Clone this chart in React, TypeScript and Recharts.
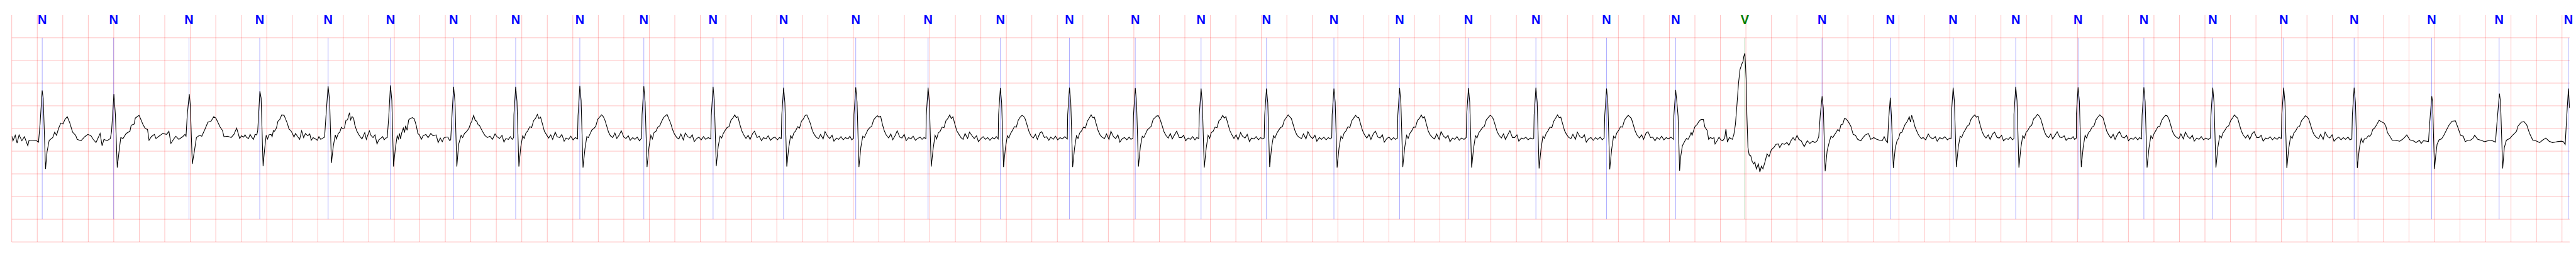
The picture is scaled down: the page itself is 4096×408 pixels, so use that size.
import { LineChart, Line, XAxis, YAxis, ReferenceLine, ReferenceDot } from "recharts";

// beat annotations (seconds)
const beatTimes = [
  0.239, 0.799, 1.39, 1.945, 2.481, 2.97, 3.465, 3.952, 4.455, 4.957, 5.5, 6.053,
  6.619, 7.186, 7.753, 8.295, 8.811, 9.327, 9.84, 10.369, 10.884, 11.424, 11.953,
  12.507, 13.049, 13.591, 14.197, 14.732, 15.225, 15.716, 16.205, 16.721, 17.261,
  17.817, 18.37, 18.978, 19.507, 20.05,
];
const beatTypes = [
  "N", "N", "N", "N", "N", "N", "N", "N", "N", "N", "N", "N", "N", "N", "N", "N",
  "N", "N", "N", "N", "N", "N", "N", "N", "N", "V", "N", "N", "N", "N", "N", "N",
  "N", "N", "N", "N", "N", "N",
];

const gridTimes = Array.from({ length: 101 }, (_, i) => +(i * 0.2).toFixed(1));
const gridLevels = [-2.5, -2, -1.5, -1, -0.5, 0, 0.5, 1, 1.5, 2];

// trace pieces, [seconds, mV]
const seg1: [number, number][] = [
  [0, -0.17], [0.0096, -0.27], [0.0275, -0.15], [0.0419, -0.32], [0.0575, -0.14], [0.079, -0.27],
  [0.0994, -0.18], [0.1258, -0.38], [0.1354, -0.26], [0.1654, -0.26], [0.1954, -0.27], [0.2097, -0.3],
  [0.2217, 0.09], [0.2385, 0.84], [0.2469, 0.66], [0.2649, -0.89], [0.2769, -0.51], [0.2937, -0.26],
  [0.3212, -0.2], [0.3368, -0.08], [0.3512, -0.15], [0.3668, 0.0], [0.3848, 0.12], [0.4016, 0.1],
  [0.4172, 0.2], [0.4352, 0.26], [0.4531, 0.14], [0.4771, -0.08], [0.5011, -0.15], [0.5131, -0.24],
  [0.5431, -0.27], [0.573, -0.18], [0.597, -0.13], [0.621, -0.16], [0.639, -0.24], [0.6606, -0.31],
  [0.693, -0.11], [0.7085, -0.38], [0.7229, -0.24], [0.7469, -0.27], [0.7733, -0.22], [0.7829, -0.06],
  [0.8009, 0.76], [0.8129, 0.3], [0.8272, -0.86], [0.8404, -0.53], [0.8548, -0.2], [0.8728, -0.22],
  [0.8968, -0.11], [0.9268, -0.06], [0.9364, 0.07], [0.9603, 0.1], [0.9687, 0.23], [0.9987, 0.29],
  [1.0287, 0.09], [1.0467, 0.0], [1.0647, -0.02], [1.0766, -0.26], [1.0946, -0.18], [1.1186, -0.13],
  [1.1306, -0.22], [1.1546, -0.17], [1.1845, -0.11], [1.2145, -0.13], [1.2325, -0.06], [1.2481, -0.33],
  [1.2685, -0.24], [1.2865, -0.17], [1.3104, -0.24], [1.3404, -0.18], [1.3584, -0.13], [1.3668, -0.17],
  [1.3764, 0.3], [1.392, 0.76], [1.4003, 0.52], [1.4159, -0.78], [1.4327, -0.49], [1.4483, -0.2],
  [1.4723, -0.15], [1.4903, -0.17], [1.5143, -0.02], [1.5382, 0.14], [1.5622, 0.16], [1.5838, 0.26],
  [1.6005, 0.23], [1.6162, 0.14], [1.6342, 0.03], [1.6521, -0.04], [1.6641, -0.18], [1.6941, -0.17],
  [1.7205, -0.2], [1.742, -0.13], [1.7636, 0.01], [1.7876, -0.22],
  [1.802, -0.16], [1.8177, -0.19], [1.8297, -0.14], [1.8417, -0.2], [1.8572, -0.22], [1.8692, -0.13],
  [1.8812, -0.19], [1.8956, -0.24], [1.9076, -0.13], [1.922, -0.14], [1.9292, -0.04], [1.946, 0.82],
  [1.9556, 0.67], [1.9711, -0.83], [1.9819, -0.49], [1.9951, -0.15], [2.0059, -0.23], [2.0179, -0.14],
  [2.0335, -0.13], [2.0419, -0.18], [2.0515, -0.05], [2.0611, -0.06], [2.0755, 0.01], [2.0875, 0.16],
  [2.1018, 0.2], [2.1174, 0.3], [2.1354, 0.29], [2.1474, 0.21], [2.1618, 0.11], [2.1738, -0.01],
  [2.1893, -0.05], [2.2013, -0.11], [2.2133, -0.19], [2.2253, -0.11], [2.2373, -0.16], [2.2577, -0.24],
  [2.2733, -0.05], [2.2889, -0.2], [2.3033, -0.11], [2.3213, -0.16], [2.3369, -0.12], [2.3488, -0.26],
  [2.3632, -0.2], [2.3812, -0.23], [2.3968, -0.26], [2.4088, -0.18], [2.4232, -0.24], [2.4412, -0.21],
  [2.4532, -0.19], [2.4651, 0.31], [2.4807, 0.93], [2.4927, 0.62], [2.5071, -0.76], [2.5215, -0.39],
  [2.5371, -0.14], [2.5455, -0.23], [2.561, -0.11], [2.573, -0.08], [2.585, 0.03], [2.5934, 0.0],
  [2.609, 0.01], [2.621, 0.18], [2.633, 0.19], [2.6486, 0.35], [2.657, 0.19], [2.6689, 0.26],
  [2.6809, 0.23], [2.6893, 0.09], [2.7049, -0.05], [2.7205, -0.13], [2.7349, -0.19], [2.7469, -0.23],
  [2.7685, -0.09], [2.7805, -0.24], [2.8044, -0.05], [2.8164, -0.15], [2.8332, -0.2], [2.8488, -0.14],
  [2.8644, -0.34], [2.8788, -0.25], [2.8968, -0.21], [2.9088, -0.18], [2.9208, -0.25], [2.9327, -0.21],
  [2.9447, -0.2], [2.9567, 0.26], [2.9699, 0.95], [2.9807, 0.62], [2.9939, -0.84], [3.0083, -0.44],
  [3.0227, -0.16], [3.0323, -0.23], [3.0407, -0.11], [3.0491, -0.23], [3.0577, -0.1], [3.0707, 0.01],
  [3.0803, -0.09], [3.0887, 0.06], [3.1007, -0.04], [3.1126, 0.19], [3.1246, 0.22], [3.1426, 0.24],
  [3.157, 0.21], [3.1726, 0.06], [3.1846, -0.11], [3.1966, -0.14], [3.2121, -0.24], [3.2265, -0.16],
  [3.2481, -0.13], [3.2649, -0.2], [3.2864, -0.11], [3.3044, -0.16], [3.3284, -0.14], [3.344, -0.31],
  [3.3608, -0.21], [3.3763, -0.29], [3.3883, -0.21], [3.4039, -0.19], [3.4207, -0.19], [3.4327, -0.26],
  [3.4423, -0.25], [3.4519, 0.26], [3.4651, 0.92], [3.4759, 0.59], [3.4903, -0.84], [3.5047, -0.35],
  [3.5239, -0.15], [3.5359, -0.2], [3.5503, -0.11], [3.5622, -0.08], [3.5742, -0.04], [3.5862, 0.01],
  [3.5982, 0.11], [3.6078, 0.16], [3.6222, 0.29], [3.6342, 0.18], [3.6462, 0.16], [3.6582, 0.08],
  [3.6677, 0.07], [3.68, 0.0], [3.695, -0.08], [3.71, -0.15], [3.73, -0.2], [3.75, -0.17],
  [3.77, -0.24], [3.79, -0.12], [3.805, -0.18], [3.825, -0.22], [3.845, -0.15], [3.86, -0.3],
  [3.875, -0.22], [3.895, -0.24], [3.91, -0.18], [3.925, -0.24], [3.936, -0.2],
];
const seg2: [number, number][] = [
  [13.068, 0.27], [13.08, -0.93], [13.0896, -0.6], [13.1016, -0.38], [13.122, -0.27], [13.134, -0.22],
  [13.146, -0.24], [13.158, -0.18], [13.17, -0.09], [13.178, -0.15], [13.1855, -0.08], [13.2, 0.04],
  [13.218, 0.09], [13.23, 0.15], [13.248, 0.2], [13.266, 0.2], [13.278, 0.03], [13.2958, -0.04],
  [13.3078, -0.24], [13.32, -0.2], [13.338, -0.22], [13.35, -0.2], [13.358, -0.34], [13.374, -0.27],
  [13.389, -0.19], [13.4036, -0.25], [13.418, -0.27], [13.4337, -0.21], [13.4433, -0.01], [13.455, -0.3],
  [13.4697, -0.2], [13.4937, -0.24], [13.5056, -0.13], [13.5176, 0.09], [13.5296, 0.52], [13.5416, 0.99],
  [13.5536, 1.3], [13.5692, 1.43], [13.5776, 1.48], [13.5836, 1.59], [13.592, 1.66], [13.6016, 1.1],
  [13.6075, 0.3], [13.616, -0.42], [13.6255, -0.58], [13.6375, -0.6], [13.6495, -0.73], [13.6615, -0.78],
  [13.67, -0.74], [13.6819, -0.89], [13.6975, -0.78], [13.7095, -0.96], [13.7215, -0.83], [13.7335, -0.89],
  [13.749, -0.74], [13.7658, -0.56], [13.7814, -0.62], [13.7994, -0.47], [13.821, -0.41], [13.8354, -0.35],
  [13.8533, -0.34], [13.8653, -0.42], [13.8833, -0.33], [13.9013, -0.35], [13.9217, -0.31], [13.9373, -0.37],
  [13.9529, -0.27], [13.9697, -0.2], [13.9852, -0.26], [14.0008, -0.15], [14.0152, -0.24], [14.0332, -0.27],
  [14.0572, -0.4], [14.0812, -0.27], [14.1016, -0.33], [14.1231, -0.28], [14.1411, -0.31], [14.1591, -0.27],
  [14.1711, -0.18], [14.1831, 0.3], [14.1975, 0.71], [14.207, 0.45], [14.2214, -0.94], [14.237, -0.49],
  [14.2526, -0.31], [14.267, -0.17], [14.2813, -0.2], [14.2969, -0.13], [14.3089, -0.08], [14.3209, -0.02],
  [14.3329, -0.06], [14.3449, 0.08], [14.3605, 0.1], [14.3725, 0.22], [14.3869, 0.21], [14.4049, 0.14],
  [14.4229, 0.05], [14.4409, -0.13], [14.4588, -0.15], [14.4768, -0.24], [14.5008, -0.27], [14.5188, -0.2],
  [14.5368, -0.14], [14.5608, -0.11], [14.5788, -0.24], [14.6028, -0.2], [14.6267, -0.24], [14.6507, -0.26],
  [14.6687, -0.27], [14.6843, -0.18], [14.6987, -0.27], [14.7107, -0.31], [14.7202, 0.23], [14.7322, 0.68],
  [14.7406, 0.3], [14.7562, -0.87], [14.7706, -0.44], [14.785, -0.27], [14.797, -0.22], [14.809, -0.1],
  [14.8245, -0.08], [14.8365, 0.01], [14.8485, 0.09], [14.8665, 0.16], [14.8809, 0.26], [14.8905, 0.14],
  [14.9, 0.29], [14.9144, 0.16], [14.9264, 0.03], [14.948, -0.11], [14.96, -0.17], [14.975, -0.22],
  [14.99, -0.2], [15.01, -0.25], [15.03, -0.12], [15.045, -0.19], [15.065, -0.23], [15.085, -0.18],
  [15.1, -0.28], [15.12, -0.2], [15.14, -0.23], [15.16, -0.18], [15.18, -0.25], [15.2, -0.21],
  [15.209, -0.22],
];
const seg3: [number, number][] = [
  [18.4396, -0.31], [18.4503, -0.23], [18.4662, -0.22], [18.4801, -0.16], [18.4929, -0.17], [18.5035, -0.13],
  [18.5163, -0.02], [18.5302, 0.01], [18.5461, 0.08], [18.5653, 0.18], [18.5834, 0.15], [18.6047, 0.12],
  [18.6186, 0.05], [18.6314, -0.09], [18.6527, -0.18], [18.6687, -0.26], [18.6899, -0.26], [18.7113, -0.27],
  [18.7273, -0.28], [18.7486, -0.24], [18.7645, -0.2], [18.7827, -0.14], [18.8071, -0.25], [18.8338, -0.27],
  [18.8551, -0.31], [18.8817, -0.26], [18.8956, -0.33], [18.9137, -0.27], [18.9403, -0.28], [18.9531, -0.29],
  [18.9616, 0.09], [18.9787, 0.71], [18.9851, 0.59], [19.0, -0.89], [19.0096, -0.6], [19.0203, -0.35],
  [19.0362, -0.25], [19.0554, -0.23], [19.0735, -0.15], [19.0895, -0.06], [19.1129, 0.07], [19.1374, 0.16],
  [19.1641, 0.17], [19.1854, 0.01], [19.2046, -0.15], [19.2259, -0.17], [19.2408, -0.29], [19.26, -0.26],
  [19.2813, -0.26], [19.3005, -0.22], [19.3154, -0.15], [19.3399, -0.24], [19.3665, -0.26], [19.3932, -0.29],
  [19.4197, -0.27], [19.4464, -0.26], [19.4784, -0.3], [19.489, 0.09], [19.5093, 0.77], [19.5178, 0.59],
  [19.5349, -0.88], [19.5476, -0.42], [19.5636, -0.26], [19.5903, -0.22], [19.6115, -0.15], [19.6276, -0.11],
  [19.6435, -0.06], [19.6542, 0.05], [19.6808, 0.14], [19.7021, 0.15], [19.7234, 0.08], [19.7447, -0.1],
  [19.7714, -0.26], [19.7948, -0.27], [19.8247, -0.31], [19.8459, -0.26], [19.8729, -0.21], [19.8992, -0.28],
  [19.9258, -0.31], [19.963, -0.29], [19.9952, -0.28], [20.0111, -0.29], [20.025, -0.35], [20.0378, 0.3],
  [20.0506, 0.88], [20.0591, 0.45],
];

// remaining beats, points given as [seconds after R, mV]
const fillBeatR = [
  3.952, 4.455, 4.957, 5.5, 6.053, 6.619, 7.186, 7.753, 8.295, 8.811, 9.327, 9.84, 10.369,
  10.884, 11.424, 11.953, 12.507, 13.049, 15.225, 15.716, 16.205, 16.721, 17.261, 17.817, 18.37,
];
const fillBeatPts: [number, number][][] = [
  [[-0.014, 0.3], [0, 0.92], [0.01, 0.6], [0.025, -0.84], [0.04, -0.4], [0.055, -0.16], [0.067, -0.22], [0.08, -0.1], [0.095, -0.05], [0.11, 0.04], [0.125, 0.02], [0.14, 0.17], [0.155, 0.22], [0.17, 0.31], [0.182, 0.22], [0.195, 0.25], [0.21, 0.1], [0.225, -0.06], [0.24, -0.13], [0.258, -0.21], [0.275, -0.14], [0.29, -0.24], [0.31, -0.08], [0.325, -0.18], [0.345, -0.2], [0.362, -0.13], [0.38, -0.28], [0.395, -0.21], [0.415, -0.24], [0.432, -0.17], [0.45, -0.25], [0.468, -0.2], [0.485, -0.23]],
  [[-0.014, 0.28], [0, 0.94], [0.01, 0.62], [0.025, -0.86], [0.04, -0.45], [0.055, -0.18], [0.067, -0.2], [0.08, -0.12], [0.095, -0.03], [0.11, 0.0], [0.125, 0.05], [0.14, 0.2], [0.155, 0.25], [0.17, 0.3], [0.182, 0.27], [0.195, 0.2], [0.21, 0.06], [0.225, -0.08], [0.24, -0.16], [0.258, -0.2], [0.275, -0.1], [0.29, -0.22], [0.31, -0.14], [0.325, -0.05], [0.345, -0.19], [0.362, -0.22], [0.38, -0.16], [0.395, -0.26], [0.415, -0.2], [0.432, -0.24], [0.45, -0.19], [0.468, -0.27], [0.485, -0.21]],
  [[-0.014, 0.3], [0, 0.93], [0.01, 0.58], [0.025, -0.85], [0.04, -0.42], [0.055, -0.15], [0.067, -0.23], [0.08, -0.09], [0.095, -0.06], [0.11, 0.03], [0.125, 0.06], [0.14, 0.16], [0.155, 0.24], [0.17, 0.28], [0.182, 0.31], [0.195, 0.22], [0.21, 0.12], [0.225, -0.02], [0.24, -0.12], [0.258, -0.2], [0.275, -0.23], [0.29, -0.12], [0.31, -0.25], [0.325, -0.1], [0.345, -0.18], [0.362, -0.21], [0.38, -0.14], [0.395, -0.29], [0.415, -0.22], [0.432, -0.19], [0.45, -0.25], [0.468, -0.18], [0.485, -0.24], [0.505, -0.2], [0.525, -0.23]],
  [[-0.014, 0.29], [0, 0.92], [0.01, 0.6], [0.025, -0.83], [0.04, -0.4], [0.055, -0.17], [0.067, -0.21], [0.08, -0.11], [0.095, -0.04], [0.11, 0.02], [0.125, 0.04], [0.14, 0.18], [0.155, 0.23], [0.17, 0.3], [0.182, 0.24], [0.195, 0.26], [0.21, 0.09], [0.225, -0.05], [0.24, -0.14], [0.258, -0.22], [0.275, -0.15], [0.29, -0.24], [0.31, -0.11], [0.325, -0.06], [0.345, -0.2], [0.362, -0.17], [0.38, -0.27], [0.395, -0.2], [0.415, -0.23], [0.432, -0.16], [0.45, -0.26], [0.468, -0.21], [0.485, -0.19], [0.505, -0.25], [0.52, -0.2], [0.535, -0.22]],
  [[-0.014, 0.3], [0, 0.9], [0.01, 0.57], [0.025, -0.84], [0.04, -0.43], [0.055, -0.16], [0.067, -0.22], [0.08, -0.1], [0.095, -0.05], [0.11, 0.04], [0.125, 0.01], [0.14, 0.16], [0.155, 0.21], [0.17, 0.29], [0.182, 0.3], [0.195, 0.22], [0.21, 0.11], [0.225, -0.04], [0.24, -0.13], [0.258, -0.2], [0.275, -0.22], [0.29, -0.13], [0.31, -0.23], [0.325, -0.07], [0.345, -0.17], [0.362, -0.22], [0.38, -0.15], [0.395, -0.28], [0.415, -0.21], [0.432, -0.24], [0.45, -0.18], [0.468, -0.25], [0.485, -0.2], [0.505, -0.23], [0.52, -0.17], [0.535, -0.25], [0.55, -0.21]],
  [[-0.014, 0.31], [0, 0.91], [0.01, 0.59], [0.025, -0.85], [0.04, -0.41], [0.055, -0.17], [0.067, -0.2], [0.08, -0.12], [0.095, -0.03], [0.11, 0.02], [0.125, 0.05], [0.14, 0.19], [0.155, 0.24], [0.17, 0.28], [0.182, 0.25], [0.195, 0.27], [0.21, 0.08], [0.225, -0.06], [0.24, -0.15], [0.258, -0.21], [0.275, -0.12], [0.29, -0.25], [0.31, -0.15], [0.325, -0.05], [0.345, -0.19], [0.362, -0.21], [0.38, -0.13], [0.395, -0.27], [0.415, -0.2], [0.432, -0.23], [0.45, -0.17], [0.468, -0.26], [0.485, -0.22], [0.505, -0.19], [0.52, -0.24], [0.535, -0.2], [0.55, -0.22]],
  [[-0.014, 0.29], [0, 0.9], [0.01, 0.58], [0.025, -0.84], [0.04, -0.44], [0.055, -0.15], [0.067, -0.23], [0.08, -0.1], [0.095, -0.06], [0.11, 0.03], [0.125, 0.02], [0.14, 0.17], [0.155, 0.22], [0.17, 0.3], [0.182, 0.22], [0.195, 0.26], [0.21, 0.1], [0.225, -0.05], [0.24, -0.12], [0.258, -0.2], [0.275, -0.24], [0.29, -0.11], [0.31, -0.22], [0.325, -0.08], [0.345, -0.16], [0.362, -0.22], [0.38, -0.16], [0.395, -0.29], [0.415, -0.22], [0.432, -0.18], [0.45, -0.24], [0.468, -0.2], [0.485, -0.26], [0.505, -0.2], [0.52, -0.23], [0.535, -0.18], [0.55, -0.23]],
  [[-0.014, 0.3], [0, 0.89], [0.01, 0.57], [0.025, -0.85], [0.04, -0.42], [0.055, -0.16], [0.067, -0.21], [0.08, -0.11], [0.095, -0.04], [0.11, 0.04], [0.125, 0.03], [0.14, 0.18], [0.155, 0.25], [0.17, 0.29], [0.182, 0.27], [0.195, 0.21], [0.21, 0.07], [0.225, -0.07], [0.24, -0.16], [0.258, -0.21], [0.275, -0.13], [0.29, -0.24], [0.31, -0.1], [0.325, -0.07], [0.345, -0.2], [0.362, -0.18], [0.38, -0.26], [0.395, -0.19], [0.415, -0.24], [0.432, -0.17], [0.45, -0.25], [0.468, -0.2], [0.485, -0.23], [0.505, -0.18], [0.525, -0.23]],
  [[-0.014, 0.3], [0, 0.9], [0.01, 0.59], [0.025, -0.85], [0.04, -0.43], [0.055, -0.16], [0.067, -0.22], [0.08, -0.1], [0.095, -0.05], [0.11, 0.03], [0.125, 0.01], [0.14, 0.16], [0.155, 0.23], [0.17, 0.3], [0.182, 0.24], [0.195, 0.25], [0.21, 0.1], [0.225, -0.05], [0.24, -0.14], [0.258, -0.2], [0.275, -0.22], [0.29, -0.12], [0.31, -0.24], [0.325, -0.06], [0.345, -0.18], [0.362, -0.22], [0.38, -0.14], [0.395, -0.3], [0.415, -0.22], [0.432, -0.2], [0.45, -0.25], [0.468, -0.19], [0.482, -0.24], [0.498, -0.21]],
  [[-0.014, 0.29], [0, 0.89], [0.01, 0.57], [0.025, -0.84], [0.04, -0.4], [0.055, -0.17], [0.067, -0.2], [0.08, -0.12], [0.095, -0.03], [0.11, 0.01], [0.125, 0.05], [0.14, 0.2], [0.155, 0.24], [0.17, 0.28], [0.182, 0.28], [0.195, 0.2], [0.21, 0.07], [0.225, -0.07], [0.24, -0.15], [0.258, -0.21], [0.275, -0.11], [0.29, -0.23], [0.31, -0.13], [0.325, -0.06], [0.345, -0.2], [0.362, -0.2], [0.38, -0.15], [0.395, -0.27], [0.415, -0.21], [0.432, -0.24], [0.45, -0.18], [0.468, -0.25], [0.482, -0.2], [0.498, -0.22]],
  [[-0.014, 0.3], [0, 0.88], [0.01, 0.56], [0.025, -0.86], [0.04, -0.44], [0.055, -0.15], [0.067, -0.22], [0.08, -0.09], [0.095, -0.06], [0.11, 0.03], [0.125, 0.02], [0.14, 0.17], [0.155, 0.21], [0.17, 0.29], [0.182, 0.23], [0.195, 0.26], [0.21, 0.11], [0.225, -0.04], [0.24, -0.13], [0.258, -0.22], [0.275, -0.14], [0.29, -0.25], [0.31, -0.09], [0.325, -0.17], [0.345, -0.21], [0.362, -0.13], [0.38, -0.29], [0.395, -0.21], [0.415, -0.23], [0.432, -0.18], [0.45, -0.25], [0.468, -0.2], [0.482, -0.23], [0.495, -0.21]],
  [[-0.014, 0.29], [0, 0.88], [0.01, 0.57], [0.025, -0.85], [0.04, -0.42], [0.055, -0.16], [0.067, -0.21], [0.08, -0.11], [0.095, -0.04], [0.11, 0.02], [0.125, 0.04], [0.14, 0.18], [0.155, 0.24], [0.17, 0.3], [0.182, 0.26], [0.195, 0.22], [0.21, 0.08], [0.225, -0.06], [0.24, -0.15], [0.258, -0.2], [0.275, -0.22], [0.29, -0.12], [0.31, -0.23], [0.325, -0.07], [0.345, -0.18], [0.362, -0.22], [0.38, -0.15], [0.395, -0.28], [0.415, -0.2], [0.432, -0.24], [0.45, -0.19], [0.468, -0.25], [0.485, -0.2], [0.5, -0.23], [0.512, -0.2]],
  [[-0.014, 0.3], [0, 0.88], [0.01, 0.58], [0.025, -0.86], [0.04, -0.43], [0.055, -0.17], [0.067, -0.22], [0.08, -0.1], [0.095, -0.05], [0.11, 0.04], [0.125, 0.02], [0.14, 0.17], [0.155, 0.23], [0.17, 0.29], [0.182, 0.25], [0.195, 0.24], [0.21, 0.09], [0.225, -0.05], [0.24, -0.14], [0.258, -0.21], [0.275, -0.13], [0.29, -0.24], [0.31, -0.11], [0.325, -0.06], [0.345, -0.19], [0.362, -0.21], [0.38, -0.14], [0.395, -0.3], [0.415, -0.22], [0.432, -0.19], [0.45, -0.25], [0.468, -0.2], [0.482, -0.24], [0.498, -0.21]],
  [[-0.014, 0.29], [0, 0.89], [0.01, 0.57], [0.025, -0.85], [0.04, -0.42], [0.055, -0.15], [0.067, -0.22], [0.08, -0.11], [0.095, -0.05], [0.11, 0.03], [0.125, 0.03], [0.14, 0.18], [0.155, 0.22], [0.17, 0.3], [0.182, 0.23], [0.195, 0.26], [0.21, 0.1], [0.225, -0.06], [0.24, -0.14], [0.258, -0.2], [0.275, -0.23], [0.29, -0.12], [0.31, -0.24], [0.325, -0.07], [0.345, -0.17], [0.362, -0.21], [0.38, -0.15], [0.395, -0.29], [0.415, -0.21], [0.432, -0.24], [0.45, -0.18], [0.468, -0.26], [0.485, -0.21], [0.505, -0.24], [0.522, -0.2]],
  [[-0.014, 0.3], [0, 0.89], [0.01, 0.58], [0.025, -0.86], [0.04, -0.44], [0.055, -0.16], [0.067, -0.21], [0.08, -0.1], [0.095, -0.04], [0.11, 0.02], [0.125, 0.05], [0.14, 0.19], [0.155, 0.24], [0.17, 0.29], [0.182, 0.27], [0.195, 0.21], [0.21, 0.07], [0.225, -0.07], [0.24, -0.15], [0.258, -0.21], [0.275, -0.12], [0.29, -0.24], [0.31, -0.13], [0.325, -0.05], [0.345, -0.2], [0.362, -0.2], [0.38, -0.14], [0.395, -0.28], [0.415, -0.21], [0.432, -0.23], [0.45, -0.19], [0.468, -0.25], [0.485, -0.21], [0.5, -0.23], [0.512, -0.22]],
  [[-0.014, 0.3], [0, 0.9], [0.01, 0.58], [0.025, -0.88], [0.04, -0.45], [0.055, -0.17], [0.067, -0.22], [0.08, -0.11], [0.095, -0.05], [0.11, 0.03], [0.125, 0.02], [0.14, 0.16], [0.155, 0.23], [0.17, 0.3], [0.182, 0.24], [0.195, 0.25], [0.21, 0.1], [0.225, -0.05], [0.24, -0.13], [0.258, -0.2], [0.275, -0.22], [0.29, -0.13], [0.31, -0.24], [0.325, -0.08], [0.345, -0.18], [0.362, -0.21], [0.38, -0.14], [0.395, -0.3], [0.415, -0.22], [0.432, -0.2], [0.45, -0.26], [0.468, -0.2], [0.485, -0.24], [0.505, -0.19], [0.52, -0.25], [0.535, -0.21]],
  [[-0.014, 0.29], [0, 0.88], [0.01, 0.57], [0.025, -0.9], [0.04, -0.46], [0.055, -0.17], [0.067, -0.21], [0.08, -0.1], [0.095, -0.04], [0.11, 0.04], [0.125, 0.03], [0.14, 0.18], [0.155, 0.24], [0.17, 0.29], [0.182, 0.26], [0.195, 0.22], [0.21, 0.08], [0.225, -0.06], [0.24, -0.15], [0.258, -0.21], [0.275, -0.14], [0.29, -0.24], [0.31, -0.1], [0.325, -0.07], [0.345, -0.2], [0.362, -0.19], [0.38, -0.27], [0.395, -0.2], [0.415, -0.24], [0.432, -0.17], [0.45, -0.25], [0.468, -0.2], [0.485, -0.23], [0.505, -0.19], [0.525, -0.24]],
  [[-0.014, 0.28], [0, 0.85], [0.009, 0.6]],
  [[-0.014, 0.3], [0, 0.9], [0.01, 0.6], [0.025, -0.85], [0.04, -0.42], [0.055, -0.17], [0.067, -0.2], [0.08, -0.1], [0.095, -0.03], [0.11, 0.05], [0.125, 0.08], [0.14, 0.2], [0.155, 0.26], [0.17, 0.3], [0.182, 0.25], [0.195, 0.27], [0.21, 0.1], [0.225, -0.05], [0.24, -0.15], [0.258, -0.21], [0.275, -0.14], [0.29, -0.24], [0.31, -0.12], [0.325, -0.08], [0.345, -0.2], [0.362, -0.21], [0.38, -0.15], [0.395, -0.27], [0.415, -0.22], [0.432, -0.24], [0.45, -0.19], [0.465, -0.25], [0.477, -0.22]],
  [[-0.014, 0.31], [0, 0.92], [0.01, 0.61], [0.025, -0.86], [0.04, -0.43], [0.055, -0.16], [0.067, -0.22], [0.08, -0.09], [0.095, -0.04], [0.11, 0.04], [0.125, 0.07], [0.14, 0.21], [0.155, 0.25], [0.17, 0.31], [0.182, 0.28], [0.195, 0.22], [0.21, 0.08], [0.225, -0.07], [0.24, -0.16], [0.258, -0.2], [0.275, -0.12], [0.29, -0.23], [0.31, -0.14], [0.325, -0.07], [0.345, -0.19], [0.362, -0.2], [0.38, -0.16], [0.395, -0.26], [0.415, -0.21], [0.432, -0.23], [0.45, -0.18], [0.462, -0.24], [0.475, -0.21]],
  [[-0.014, 0.3], [0, 0.91], [0.01, 0.6], [0.025, -0.85], [0.04, -0.41], [0.055, -0.15], [0.067, -0.21], [0.08, -0.1], [0.095, -0.05], [0.11, 0.03], [0.125, 0.06], [0.14, 0.19], [0.155, 0.25], [0.17, 0.3], [0.182, 0.27], [0.195, 0.24], [0.21, 0.09], [0.225, -0.06], [0.24, -0.14], [0.258, -0.21], [0.275, -0.13], [0.29, -0.24], [0.31, -0.12], [0.325, -0.07], [0.345, -0.19], [0.362, -0.21], [0.38, -0.15], [0.395, -0.27], [0.415, -0.21], [0.432, -0.24], [0.45, -0.19], [0.468, -0.25], [0.482, -0.2], [0.498, -0.23]],
  [[-0.014, 0.29], [0, 0.91], [0.01, 0.59], [0.025, -0.86], [0.04, -0.43], [0.055, -0.16], [0.067, -0.22], [0.08, -0.11], [0.095, -0.04], [0.11, 0.04], [0.125, 0.05], [0.14, 0.18], [0.155, 0.24], [0.17, 0.29], [0.182, 0.28], [0.195, 0.22], [0.21, 0.08], [0.225, -0.07], [0.24, -0.15], [0.258, -0.2], [0.275, -0.22], [0.29, -0.12], [0.31, -0.23], [0.325, -0.08], [0.345, -0.18], [0.362, -0.22], [0.38, -0.15], [0.395, -0.28], [0.415, -0.21], [0.432, -0.24], [0.45, -0.18], [0.468, -0.25], [0.485, -0.21], [0.505, -0.24], [0.522, -0.21]],
  [[-0.014, 0.3], [0, 0.9], [0.01, 0.58], [0.025, -0.86], [0.04, -0.42], [0.055, -0.16], [0.067, -0.21], [0.08, -0.1], [0.095, -0.04], [0.11, 0.03], [0.125, 0.06], [0.14, 0.17], [0.155, 0.23], [0.17, 0.3], [0.182, 0.26], [0.195, 0.23], [0.21, 0.08], [0.225, -0.06], [0.24, -0.15], [0.258, -0.21], [0.275, -0.14], [0.29, -0.24], [0.31, -0.11], [0.325, -0.07], [0.345, -0.2], [0.362, -0.2], [0.38, -0.15], [0.395, -0.28], [0.415, -0.21], [0.432, -0.23], [0.45, -0.18], [0.468, -0.25], [0.485, -0.2], [0.505, -0.24], [0.52, -0.19], [0.538, -0.22]],
  [[-0.014, 0.31], [0, 0.9], [0.01, 0.59], [0.025, -0.87], [0.04, -0.44], [0.055, -0.17], [0.067, -0.22], [0.08, -0.1], [0.095, -0.05], [0.11, 0.03], [0.125, 0.05], [0.14, 0.17], [0.155, 0.22], [0.17, 0.28], [0.182, 0.26], [0.195, 0.22], [0.21, 0.09], [0.225, -0.05], [0.24, -0.14], [0.258, -0.2], [0.275, -0.22], [0.29, -0.13], [0.31, -0.24], [0.325, -0.08], [0.345, -0.18], [0.362, -0.21], [0.38, -0.14], [0.395, -0.28], [0.415, -0.22], [0.432, -0.19], [0.45, -0.25], [0.468, -0.2], [0.485, -0.24], [0.505, -0.19], [0.52, -0.25], [0.535, -0.23]],
  [[-0.014, 0.3], [0, 0.9], [0.01, 0.58], [0.025, -0.87], [0.04, -0.45], [0.055, -0.22], [0.064, -0.28]],
];

const data = [
  ...seg1,
  ...seg2,
  ...seg3,
  ...fillBeatR.flatMap((r, i) => fillBeatPts[i].map(([dt, v]) => [+(r + dt).toFixed(4), v] as [number, number])),
]
  .sort((a, b) => a[0] - b[0])
  .map(([t, v]) => ({ t, v }));

const labelColor: Record<string, string> = { N: "#0000ff", V: "#008000" };

export default function App() {
  return (
    <div style={{ position: "absolute", left: 0, top: 0, background: "#fff" }}>
      <LineChart
        width={4096}
        height={408}
        data={data}
        margin={{ top: 23.9, right: 10.1, bottom: 23.9, left: 18.7 }}
      >
        <XAxis type="number" dataKey="t" domain={[0, 20.06]} hide allowDataOverflow />
        <YAxis type="number" domain={[-2.5, 2.5]} hide allowDataOverflow />
        {gridTimes.map((t) => (
          <ReferenceLine key={"gx" + t} x={t} stroke="#ff0000" strokeOpacity={0.25} strokeWidth={1} />
        ))}
        {gridLevels.map((v) => (
          <ReferenceLine key={"gy" + v} y={v} stroke="#ff0000" strokeOpacity={0.25} strokeWidth={1} />
        ))}
        {beatTimes.map((t, i) => (
          <ReferenceLine
            key={"b" + i}
            segment={[{ x: t, y: -2 }, { x: t, y: 2 }]}
            stroke={labelColor[beatTypes[i]]}
            strokeOpacity={0.32}
            strokeWidth={1}
          />
        ))}
        {beatTimes.map((t, i) => (
          <ReferenceDot
            key={"l" + i}
            x={t}
            y={2.5}
            r={0}
            fill="none"
            stroke="none"
            label={(p: any) => (
              <text
                x={p.viewBox.x}
                y={p.viewBox.y + 14.5}
                textAnchor="middle"
                fontFamily="Liberation Sans, Arial, sans-serif"
                fontWeight="bold"
                fontSize={20}
                fill={labelColor[beatTypes[i]]}
              >
                {beatTypes[i]}
              </text>
            )}
          />
        ))}
        <Line
          type="linear"
          dataKey="v"
          stroke="#000"
          strokeWidth={1.1}
          dot={false}
          isAnimationActive={false}
        />
      </LineChart>
    </div>
  );
}
